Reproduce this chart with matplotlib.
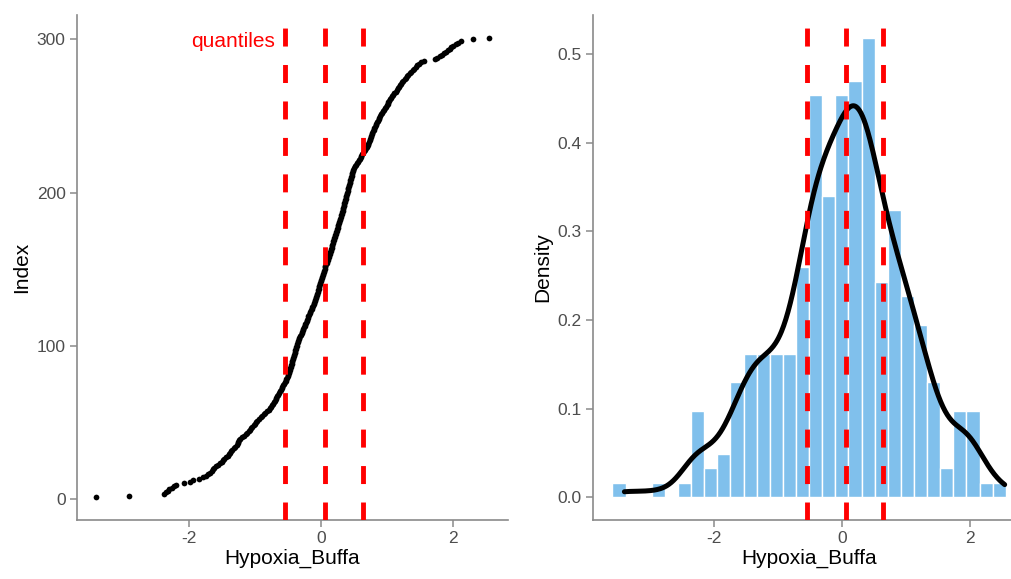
import numpy as np
import matplotlib
matplotlib.use("Agg")
import matplotlib.pyplot as plt

# Sorted Hypoxia_Buffa scores (301 samples)
hypoxia_buffa = [
    -3.400, -2.905, -2.372,
    -2.345, -2.318, -2.296, -2.261, -2.224, -2.187,
    -2.073, -1.985,
    -1.932, -1.848, -1.779,
    -1.731, -1.712, -1.684, -1.652, -1.631, -1.612, -1.584, -1.551,
    -1.522, -1.498, -1.481, -1.463, -1.440, -1.409, -1.386, -1.372, -1.358, -1.341,
    -1.318, -1.296, -1.274, -1.259, -1.248, -1.236, -1.225, -1.190, -1.162, -1.139,
    -1.111, -1.094, -1.078, -1.062, -1.041, -1.012, -0.995, -0.978, -0.960, -0.934,
    -0.905, -0.886, -0.861, -0.842, -0.815, -0.791, -0.770, -0.752, -0.739, -0.724,
    -0.710, -0.698, -0.684, -0.672, -0.661, -0.648, -0.632, -0.618, -0.605, -0.594,
    -0.583, -0.571, -0.560, -0.548, -0.533, -0.519,
    -0.506, -0.498, -0.490, -0.483, -0.476, -0.468, -0.461, -0.455, -0.449, -0.442,
    -0.436, -0.430, -0.424, -0.417, -0.411, -0.404, -0.397, -0.390, -0.383, -0.376,
    -0.370, -0.363, -0.356, -0.348, -0.340, -0.331, -0.322, -0.314,
    -0.300, -0.291, -0.282, -0.272, -0.262, -0.252, -0.243, -0.234, -0.225, -0.215,
    -0.205, -0.196, -0.187, -0.178, -0.168, -0.158, -0.148, -0.138, -0.128, -0.118,
    -0.108,
    -0.096, -0.089, -0.082, -0.075, -0.068, -0.061, -0.054, -0.047, -0.040, -0.033,
    -0.026, -0.019, -0.012, -0.005, 0.002, 0.009, 0.016, 0.023, 0.030, 0.037,
    0.044, 0.051, 0.058, 0.065, 0.072, 0.080, 0.088, 0.096,
    0.108, 0.115, 0.122, 0.129, 0.136, 0.143, 0.150, 0.157, 0.164, 0.171,
    0.178, 0.185, 0.192, 0.199, 0.206, 0.213, 0.220, 0.227, 0.234, 0.241,
    0.248, 0.255, 0.262, 0.269, 0.276, 0.283, 0.290, 0.296, 0.302,
    0.312, 0.318, 0.324, 0.330, 0.336, 0.342, 0.348, 0.354, 0.360, 0.366,
    0.372, 0.378, 0.384, 0.390, 0.396, 0.402, 0.408, 0.414, 0.420, 0.426,
    0.432, 0.438, 0.444, 0.450, 0.456, 0.462, 0.468, 0.474, 0.481, 0.488,
    0.496, 0.505,
    0.520, 0.534, 0.548, 0.561, 0.575, 0.589, 0.603, 0.617, 0.631, 0.645,
    0.658, 0.671, 0.684, 0.697, 0.710,
    0.723, 0.731, 0.740, 0.749, 0.757, 0.766, 0.775, 0.784, 0.793, 0.802,
    0.812, 0.822, 0.832, 0.843, 0.854, 0.866, 0.878, 0.890, 0.902, 0.915,
    0.930, 0.944, 0.958, 0.972, 0.986, 0.999, 1.012, 1.025, 1.039, 1.053,
    1.068, 1.083, 1.099, 1.116,
    1.135, 1.151, 1.168, 1.185, 1.202, 1.219, 1.236, 1.253, 1.270, 1.288,
    1.306, 1.322,
    1.345, 1.368, 1.391, 1.414, 1.440, 1.466, 1.491, 1.517,
    1.560, 1.725,
    1.762, 1.800, 1.838, 1.872, 1.903, 1.932,
    1.958, 1.981, 2.006, 2.042, 2.083, 2.125,
    2.310, 2.545,
]

quantile_probs = [0.25, 0.5, 0.75]
n_bins = 30
x_ticks = [-2, 0, 2]
index_ticks = [0, 100, 200, 300]
density_ticks = [0.0, 0.1, 0.2, 0.3, 0.4, 0.5]

plt.rcParams["font.family"] = ["Liberation Sans", "DejaVu Sans"]
plt.rcParams["axes.unicode_minus"] = False

AXIS_GREY = "#8a8a8a"
TICK_TEXT = "#4d4d4d"
BAR_BLUE = "#80c0ec"


def gg_histogram(x, bins=30):
    """Histogram binned the way ggplot2 does it with bins=30."""
    lo, hi = x.min(), x.max()
    width = (hi - lo) / (bins - 1)
    boundary = width / 2
    origin = boundary + np.floor((lo - boundary) / width) * width
    n_edges = int(np.floor((hi + width - origin) / width + 1e-9)) + 1
    edges = origin + width * np.arange(n_edges)
    counts, edges = np.histogram(x, bins=edges)
    density = counts / (len(x) * width)
    return edges, density, width


def kde_nrd0(x, grid):
    """Gaussian kernel density with R's default bandwidth (bw.nrd0)."""
    n = len(x)
    q75, q25 = np.percentile(x, [75, 25])
    bw = 0.9 * min(np.std(x, ddof=1), (q75 - q25) / 1.34) * n ** -0.2
    z = (grid[:, None] - x[None, :]) / bw
    return np.exp(-0.5 * z ** 2).sum(axis=1) / (n * bw * np.sqrt(2 * np.pi))


def style_axes(ax):
    for side in ["top", "right"]:
        ax.spines[side].set_visible(False)
    for side in ["left", "bottom"]:
        ax.spines[side].set_color(AXIS_GREY)
        ax.spines[side].set_linewidth(1.2)
    ax.tick_params(axis="both", colors=AXIS_GREY, width=1.1, length=5,
                   labelsize=12.5, labelcolor=TICK_TEXT, pad=3)


values = np.sort(np.array(hypoxia_buffa))
n = len(values)
index = np.arange(1, n + 1)
quants = np.quantile(values, quantile_probs)

fig = plt.figure(figsize=(10.12, 5.79), dpi=100)
ax1 = fig.add_axes([0.0758, 0.1019, 0.4265, 0.8722])
ax2 = fig.add_axes([0.5857, 0.1019, 0.4276, 0.8722])

# Left: sorted values against their index
ax1.scatter(values, index, s=17, color="black", linewidths=0, zorder=3)
for q in quants:
    ax1.axvline(q, color="red", linewidth=3.5, linestyle=(0, (3.7, 3.8)), zorder=4)
ax1.text(quants[0] - 0.15, 299, "quantiles", color="red", fontsize=15,
         ha="right", va="center")
span = values.max() - values.min()
ax1.set_xlim(values.min() - 0.05 * span, values.max() + 0.05 * span)
ax1.set_ylim(1 - 0.05 * (n - 1), n + 0.05 * (n - 1))
ax1.set_xticks(x_ticks)
ax1.set_yticks(index_ticks)
ax1.set_xlabel("Hypoxia_Buffa", fontsize=15, labelpad=2)
ax1.set_ylabel("Index", fontsize=15, labelpad=4)
style_axes(ax1)

# Right: histogram, density curve and the same quantiles
edges, density, width = gg_histogram(values, n_bins)
ax2.bar(edges[:-1], density, width=width, align="edge", color=BAR_BLUE,
        edgecolor="white", linewidth=1.0, zorder=2)
grid = np.linspace(values.min(), values.max(), 512)
ax2.plot(grid, kde_nrd0(values, grid), color="black", linewidth=3.6,
         solid_capstyle="round", zorder=3)
for q in quants:
    ax2.axvline(q, color="red", linewidth=3.5, linestyle=(0, (3.7, 3.8)), zorder=4)
bar_span = edges[-1] - edges[0]
ax2.set_xlim(edges[0] - 0.05 * bar_span, edges[-1] + 0.05 * bar_span)
top = density.max()
ax2.set_ylim(-0.05 * top, 1.05 * top)
ax2.set_xticks(x_ticks)
ax2.set_yticks(density_ticks)
ax2.set_yticklabels([f"{t:.1f}" for t in density_ticks])
ax2.set_xlabel("Hypoxia_Buffa", fontsize=15, labelpad=2)
ax2.set_ylabel("Density", fontsize=15, labelpad=4)
style_axes(ax2)

fig.savefig("out.png", dpi=100)
